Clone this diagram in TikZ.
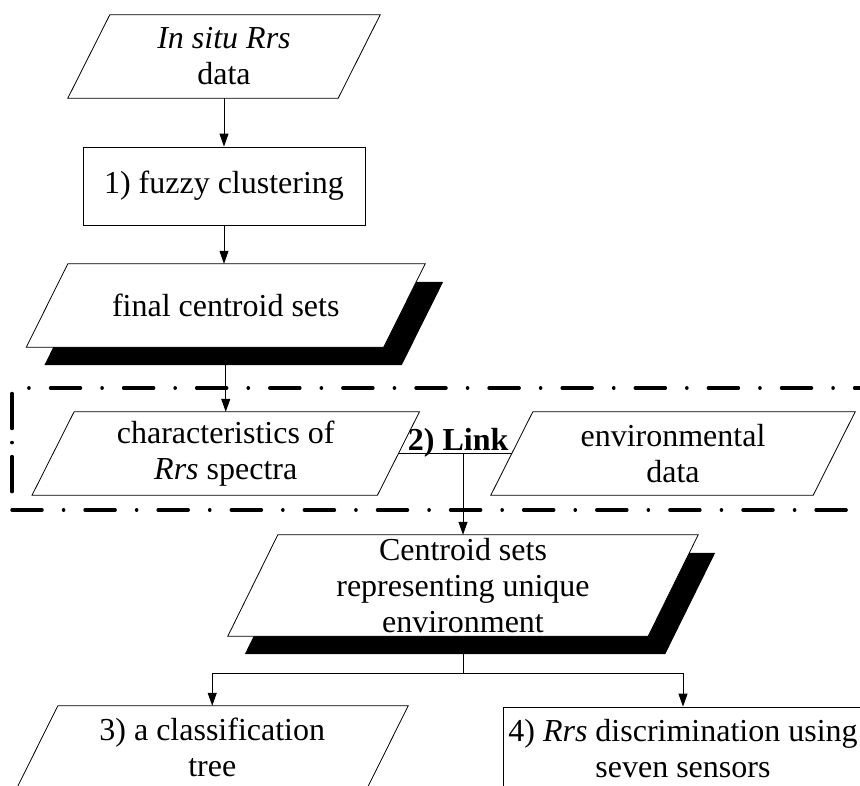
\documentclass[tikz,border=0pt]{standalone}
\usepackage{fontspec}
\setmainfont{Liberation Serif}
\usetikzlibrary{arrows.meta, backgrounds, calc}
\tikzset{
  base/.style = {align=center, inner sep=0pt, font=\fontsize{32}{36}\selectfont},
  iobox/.style = {base, rectangle, minimum height=83pt},
  procbox/.style = {base, rectangle, draw=black, fill=white, line width=0.8pt},
  outline/.style = {draw=black, fill=white, line width=0.8pt},
  heavy/.style = {fill=black},
  link/.style = {line width=1pt},
  group/.style = {line width=3.5pt, line cap=round,
    dash pattern=on 30pt off 21.5pt on 0.1pt off 21.5pt}
}
% slanted outline round a node: #1 shift, #2 node, #3 half slant
\newcommand{\slantbox}[3]{%
  ($(#2.north west)+(#3,0)+(#1)$) -- ($(#2.north east)+(#3,0)+(#1)$) --
  ($(#2.south east)+(-#3,0)+(#1)$) -- ($(#2.south west)+(-#3,0)+(#1)$) -- cycle}

\begin{document}
\begin{tikzpicture}[x=1pt, y=-1pt, >={Triangle[length=13pt, width=9pt]}]
\useasboundingbox (0,0) rectangle (860,785);
\clip (0,0) rectangle (860,785);
% frame round step 2
\draw[group, dash phase=34.6pt] (12,388) -- (880,388);
\draw[group] (12,510) -- (880,510);
\draw[group, dash pattern=on 35pt off 14pt on 0.1pt off 14pt on 35pt off 100pt] (12,393.5) -- (12,510);
\node[iobox, minimum width=270pt] (data) at (224,56.5) {\textit{In situ Rrs}\\data};
\node[procbox, minimum width=282pt, minimum height=78pt] (fuzzy) at (224,186) {1) fuzzy clustering};
\node[iobox, minimum width=357pt] (final) at (225.75,305.5) {final centroid sets};
\node[iobox, minimum width=345pt] (chars) at (225.75,453.5) {characteristics of\\\textit{Rrs} spectra};
\node[iobox, minimum width=322pt] (envir) at (673,453.5) {environmental\\data};
\node[iobox, minimum width=420pt, minimum height=101pt] (cent) at (463,585.5)
  {Centroid sets\\representing unique\\environment};
\node[iobox, minimum width=350pt] (tree) at (212.25,747.5) {3) a classification\\tree};
\node[procbox, minimum width=360pt, minimum height=83pt] (sens) at (683,748.5)
  {4) \textit{Rrs} discrimination using\\seven sensors};
% outlines and shadows
\begin{scope}[on background layer]
  \fill[heavy] \slantbox{18,18}{final}{20.75};
  \fill[heavy] \slantbox{17,18}{cent}{25};
  \draw[outline] \slantbox{0,0}{data}{21};
  \draw[outline] \slantbox{0,0}{final}{20.75};
  \draw[outline] \slantbox{0,0}{chars}{21};
  \draw[outline] \slantbox{0,0}{envir}{21};
  \draw[outline] \slantbox{0,0}{cent}{25};
  \draw[outline] \slantbox{0,0}{tree}{20.75};
\end{scope}
% connectors
\draw[->, link] (data.south) -- (fuzzy.north);
\draw[->, link] (fuzzy.south) -- (fuzzy.south |- final.north);
\draw[->, link] ([yshift=-18pt]final.south) -- (chars.north);
\draw[link] (chars.east) -- node[anchor=base, inner sep=0pt, yshift=3pt, xshift=3pt,
  font=\fontsize{32}{36}\selectfont\bfseries] {2) Link} (envir.west);
\coordinate (join) at (cent.north |- chars.east);
\draw[->, link] (join) -- (cent.north);
\coordinate (split) at ([yshift=-37pt]cent.south);
\draw[link] ([yshift=-18pt]cent.south) -- (split);
\draw[->, link] (split) -| (tree.north);
\draw[->, link] (split) -| (sens.north);
\end{tikzpicture}
\end{document}
